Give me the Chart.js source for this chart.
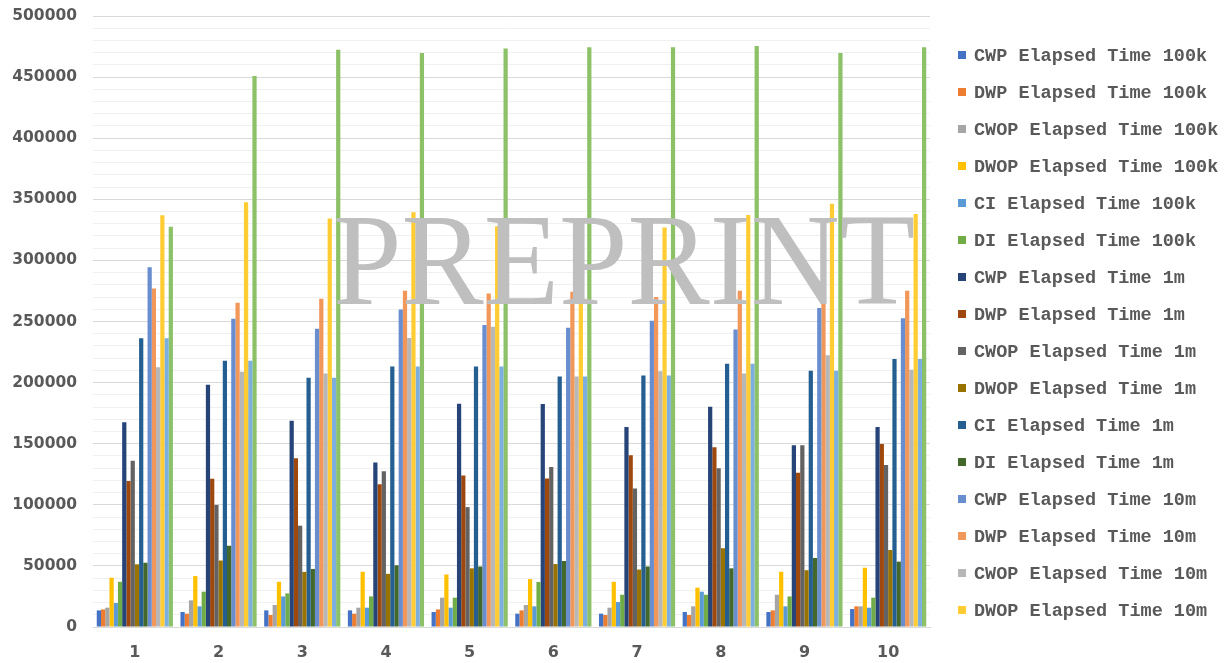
<!DOCTYPE html>
<html>
<head>
<meta charset="utf-8">
<script src="https://cdn.jsdelivr.net/npm/chart.js@4/dist/chart.umd.min.js"></script>
<style>
  html, body { margin: 0; padding: 0; background: #ffffff; }
  #wrap { width: 1231px; height: 663px; }
</style>
</head>
<body>
<div id="wrap"><canvas id="c" width="1231" height="663"></canvas></div>
<script>
// Run labels (x axis)
const categories = ['1', '2', '3', '4', '5', '6', '7', '8', '9', '10'];

// Elapsed times per run, 100k records
const cwp100k  = [13600, 12300, 13600, 13600, 12300, 10900, 10900, 12300, 12300, 14700];
const dwp100k  = [14400, 10900,  9800, 10900, 14400, 13600,  9800,  9800, 13600, 16900];
const cwop100k = [15800, 21800, 18000, 15800, 24000, 18000, 15800, 16900, 26400, 16900];
const dwop100k = [40300, 41700, 37000, 45200, 43000, 39200, 37000, 32200, 45200, 48500];
const ci100k   = [19600, 16900, 25000, 15800, 15800, 16900, 20400, 28900, 16900, 15800];
const di100k   = [37000, 28900, 27500, 25000, 24000, 36800, 26400, 26400, 25000, 24000];

// Elapsed times per run, 1m records
const cwp1m  = [167500, 198200, 168700, 134700, 182700, 182500, 163700, 180300, 148700, 163700];
const dwp1m  = [119500, 121300, 138000, 116900, 124000, 121500, 140600, 147100, 126300, 149700];
const cwop1m = [136100,  99900,  82900, 127500,  98100, 130900, 113400, 130000, 148700, 132500];
const dwop1m = [ 51300,  54400,  45100,  43500,  48000,  51500,  47000,  64500,  46500,  63000];
const ci1m   = [236200, 217900, 203900, 213100, 213100, 204900, 205900, 215500, 209700, 219300];
const di1m   = [ 52600,  66500,  47500,  50500,  49500,  54000,  49500,  48000,  56500,  53500];

// Elapsed times per run, 10m records
const cwp10m  = [294300, 252300, 244000, 259900, 247100, 244900, 250600, 243400, 261100, 252700];
const dwp10m  = [277100, 265400, 268700, 275200, 273000, 274300, 270000, 275200, 284300, 275200];
const cwop10m = [212500, 208900, 207500, 236500, 245800, 204900, 209300, 207400, 222400, 210600];
const dwop10m = [337000, 347600, 334300, 339500, 328000, 325500, 327000, 337100, 346400, 338000];
const ci10m   = [236200, 217900, 203900, 213100, 213100, 204900, 205900, 215500, 209700, 219300];
const di10m   = [327600, 450900, 472300, 469800, 473500, 474500, 474500, 475400, 469800, 474500];

// Y axis range and label spacing
const yMax = 500000;
const yMinorStep = 10000;
const yMajorStep = 50000;

const seriesNames = [
  'CWP Elapsed Time 100k', 'DWP Elapsed Time 100k', 'CWOP Elapsed Time 100k',
  'DWOP Elapsed Time 100k', 'CI Elapsed Time 100k', 'DI Elapsed Time 100k',
  'CWP Elapsed Time 1m', 'DWP Elapsed Time 1m', 'CWOP Elapsed Time 1m',
  'DWOP Elapsed Time 1m', 'CI Elapsed Time 1m', 'DI Elapsed Time 1m',
  'CWP Elapsed Time 10m', 'DWP Elapsed Time 10m', 'CWOP Elapsed Time 10m',
  'DWOP Elapsed Time 10m', 'CI Elapsed Time 10m', 'DI Elapsed Time 10m'
];
const seriesValues = [
  cwp100k, dwp100k, cwop100k, dwop100k, ci100k, di100k,
  cwp1m, dwp1m, cwop1m, dwop1m, ci1m, di1m,
  cwp10m, dwp10m, cwop10m, dwop10m, ci10m, di10m
];
const seriesColors = [
  '#4472C4', '#ED7D31', '#A5A5A5', '#FFC000', '#5B9BD5', '#70AD47',
  '#264478', '#9E480E', '#636363', '#997300', '#255E91', '#43682B',
  '#698ED0', '#F1975A', '#B7B7B7', '#FFCD33', '#7CAFDD', '#8CC168'
];

const datasets = seriesNames.map((name, i) => ({
  label: name,
  data: seriesValues[i],
  backgroundColor: seriesColors[i],
  borderWidth: 0,
  categoryPercentage: 0.91,
  barPercentage: 1.0
}));

const TEXT_GREY = '#595959';

// Legend listed down the right side, cut off at the bottom of the plot
const sideLegend = {
  id: 'sideLegend',
  afterDraw(chart) {
    const ctx = chart.ctx;
    ctx.save();
    ctx.beginPath();
    ctx.rect(940, 0, 291, 628);
    ctx.clip();
    ctx.font = 'bold 18.5px "Liberation Mono", "DejaVu Sans Mono", monospace';
    ctx.textBaseline = 'middle';
    ctx.textAlign = 'left';
    chart.data.datasets.forEach((ds, i) => {
      const y = 55 + i * 37;
      ctx.fillStyle = ds.backgroundColor;
      ctx.fillRect(958, y - 4, 8, 8);
      ctx.fillStyle = TEXT_GREY;
      ctx.fillText(ds.label, 974, y + 1);
    });
    ctx.restore();
  }
};

// Large grey stamp across the plot
const stamp = {
  id: 'stamp',
  afterDraw(chart) {
    const ctx = chart.ctx;
    ctx.save();
    ctx.font = '132px "Liberation Serif", "DejaVu Serif", serif';
    ctx.fillStyle = '#bfbfbf';
    ctx.textBaseline = 'alphabetic';
    ctx.textAlign = 'left';
    ctx.fillText('PREPRINT', 333, 304, 582);
    ctx.restore();
  }
};

new Chart(document.getElementById('c'), {
  type: 'bar',
  data: { labels: categories, datasets },
  plugins: [sideLegend, stamp],
  options: {
    responsive: false,
    animation: false,
    devicePixelRatio: 1,
    layout: { padding: { top: 16, right: 301, left: 0, bottom: 0 } },
    plugins: {
      legend: { display: false },
      tooltip: { enabled: false }
    },
    scales: {
      x: {
        grid: { display: false },
        border: { display: true, color: '#d9d9d9', width: 1 },
        ticks: {
          color: TEXT_GREY,
          font: { family: '"DejaVu Sans", sans-serif', size: 16, weight: 'bold' },
          padding: 8
        },
        afterFit(scale) {
          scale.height = 36;
          scale.paddingLeft = 0;
          scale.paddingRight = 0;
        }
      },
      y: {
        min: 0,
        max: yMax,
        border: { display: false },
        grid: {
          drawTicks: false,
          color: (c) => (c.tick && c.tick.value % yMajorStep === 0) ? '#d9d9d9' : '#f0f0f0',
          lineWidth: 1
        },
        ticks: {
          stepSize: yMinorStep,
          autoSkip: false,
          maxTicksLimit: 100,
          color: TEXT_GREY,
          padding: 16,
          font: { family: '"DejaVu Sans", sans-serif', size: 15.5, weight: 'bold' },
          callback: (v) => (v % yMajorStep === 0) ? String(v) : ''
        },
        afterFit(scale) {
          scale.width = 93;
          scale.paddingTop = 0;
          scale.paddingBottom = 0;
        }
      }
    }
  }
});
</script>
</body>
</html>
